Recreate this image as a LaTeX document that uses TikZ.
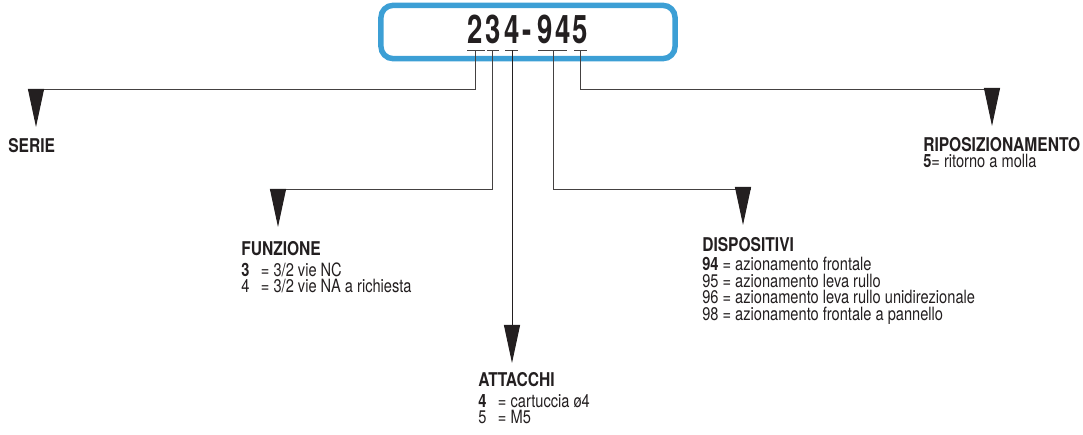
\documentclass[tikz,border=0pt]{standalone}
\usepackage{fontspec}
\setmainfont{TeX Gyre Heros}
\newfontfamily\bodyfont{TeX Gyre Heros}[FakeStretch=0.8]
\newfontfamily\headfont{TeX Gyre Heros}[FakeStretch=0.82]
\newfontfamily\codefont{TeX Gyre Heros}[FakeStretch=0.7]
\usetikzlibrary{arrows.meta, calc, positioning}
\definecolor{codeblue}{HTML}{3C9FD5}
\definecolor{ink}{HTML}{231F20}
\newcommand{\hd}{\headfont\bfseries\fontsize{13.5}{12}\selectfont}
\newcommand{\codenum}[1]{\makebox[14pt][l]{#1}}

\begin{document}
\begin{tikzpicture}[x=0.025cm, y=-0.025cm,
    codebox/.style={draw=codeblue, line width=3.9pt, rounded corners=0.3cm, minimum width=7.35cm, minimum height=1.33cm},
    digit/.style={anchor=base, inner sep=0pt, text=ink, font=\codefont\bfseries\fontsize{28}{28}\selectfont},
    uline/.style={draw=ink!85, line width=0.6pt},
    link/.style={draw=ink!85, line width=0.7pt},
    tip/.style={link, draw=ink, -{Triangle[length=0.95cm, width=0.4cm]}},
    legend/.style={anchor=north west, inner sep=0pt, align=left, text=ink, font=\bodyfont\fontsize{13}{11.8}\selectfont}
]
\useasboundingbox (0,0) rectangle (1083,434);

% code box
\node[codebox] (box) at (528,32) {};
\foreach \x/\d/\n in {475/2/a, 493/3/b, 512/4/c, 527/-/h, 545/9/d, 563/4/e, 580/5/f}
    \node[digit] (\n) at (\x,43) {\d};

% underlines
\coordinate (ua) at (475,50);
\coordinate (ub) at (492,50);
\coordinate (uc) at (512,50);
\coordinate (ud) at (553,50);
\coordinate (uf) at (580,50);
\draw[uline] (467,50) -- (485,50);
\draw[uline] (487,50) -- (499,50);
\draw[uline] (505,50) -- (518,50);
\draw[uline] (538,50) -- (567,50);
\draw[uline] (574,50) -- (587,50);

% arrow tips
\coordinate (tS) at (36,89);   \coordinate (eS) at (36,127);
\coordinate (tF) at (278,189); \coordinate (eF) at (278,227);
\coordinate (eA) at (512,363);
\coordinate (tD) at (743,189); \coordinate (eD) at (743,225);
\coordinate (tR) at (992,89);  \coordinate (eR) at (992,126);

% connectors
\draw[link] (ua) |- ($(tS)+(-8,0)$);
\draw[tip] (tS) -- (eS);
\draw[link] (ub) |- ($(tF)+(-8,0)$);
\draw[tip] (tF) -- (eF);
\draw[tip] (uc) -- (eA);
\draw[link] (ud) |- ($(tD)+(8,0)$);
\draw[tip] (tD) -- (eD);
\draw[link] (uf) |- ($(tR)+(7,0)$);
\draw[tip] (tR) -- (eR);

% legends
\node[legend] (serie) at (8,138) {{\hd SERIE}};
\node[legend] (funzione) at (241,241) {{\hd FUNZIONE}\\[3pt]
    \codenum{\textbf{3}}= 3/2 vie NC\\
    \codenum{4}= 3/2 vie NA a richiesta};
\node[legend] (attacchi) at (478,372) {{\hd ATTACCHI}\\[3pt]
    \codenum{\textbf{4}}= cartuccia ø4\\
    \codenum{5}= M5};
\node[legend] (dispositivi) at (702,237) {{\hd DISPOSITIVI}\\[2pt]
    \textbf{94} = azionamento frontale\\
    95 = azionamento leva rullo\\
    96 = azionamento leva rullo unidirezionale\\
    98 = azionamento frontale a pannello};
\node[legend] (riposiz) at (923,137) {{\hd RIPOSIZIONAMENTO}\\
    \textbf{5}= ritorno a molla};
\end{tikzpicture}
\end{document}
